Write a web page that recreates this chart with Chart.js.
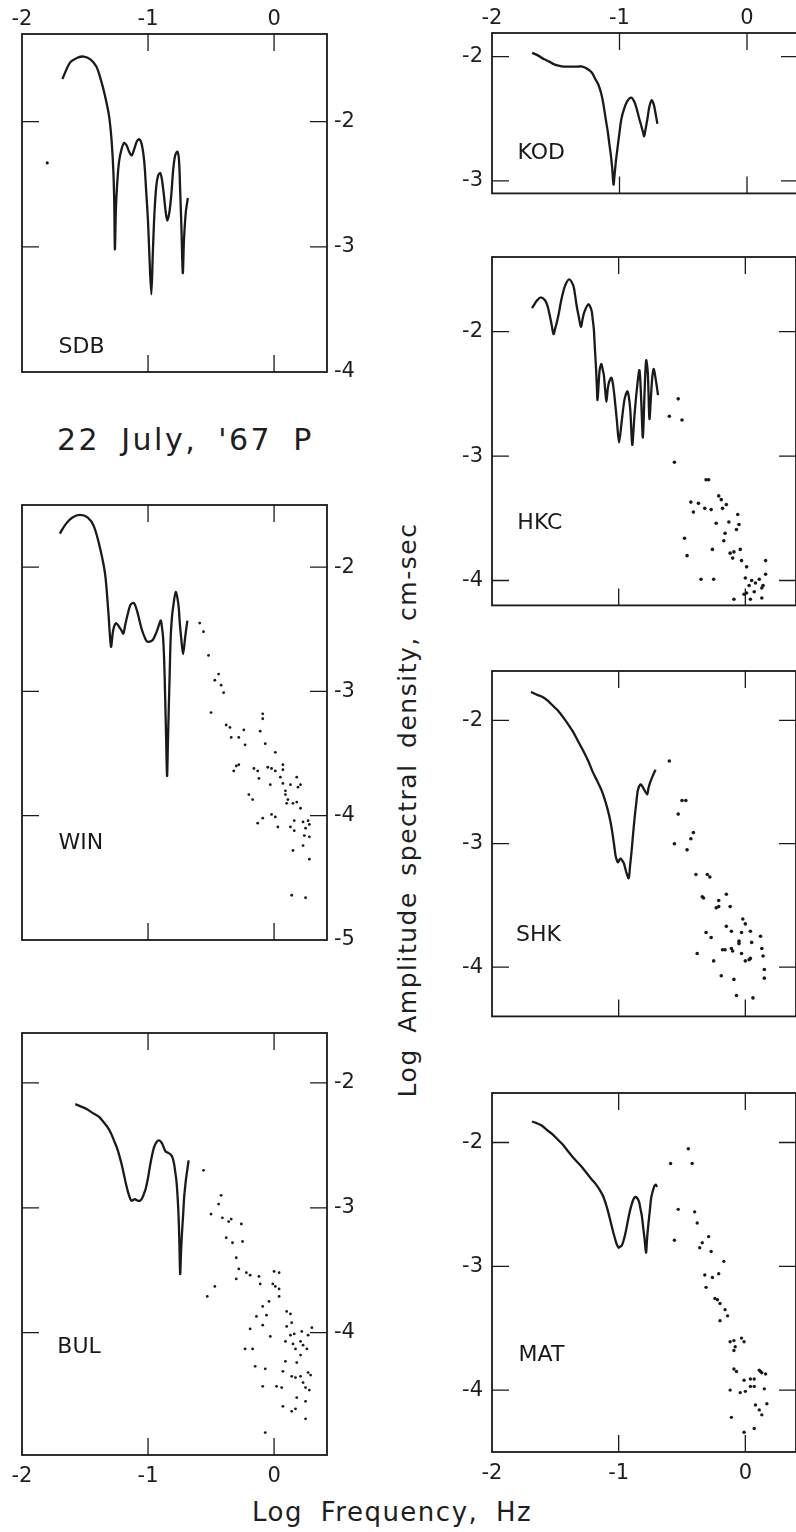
<!DOCTYPE html>
<html>
<head>
<meta charset="utf-8">
<title>22 July, '67 P</title>
<script src="https://cdn.jsdelivr.net/npm/chart.js@4.4.0/dist/chart.umd.min.js"></script>
<style>
  html, body { margin: 0; padding: 0; background: #fff; overflow: hidden; }
  body { width: 796px; height: 1532px; position: relative; font-family: 'DejaVu Sans', sans-serif; color: #1e1e1e; }
  canvas { position: absolute; }
  .txt { position: absolute; white-space: nowrap; line-height: 1; }
  #date { left: 57px; top: 425px; font-size: 30px; letter-spacing: 2.5px; word-spacing: 9px; }
  #xtitle { left: 252px; top: 1499px; font-size: 26px; letter-spacing: 1.5px; word-spacing: 8px; }
  #ytitle { left: 407px; top: 810px; font-size: 25px; letter-spacing: 1.5px; word-spacing: 6px;
            transform: translate(-50%, -50%) rotate(-90deg); }
</style>
</head>
<body>
<div class="txt" id="date">22 July, '67 P</div>
<div class="txt" id="ytitle">Log Amplitude spectral density, cm-sec</div>
<div class="txt" id="xtitle">Log Frequency, Hz</div>
<canvas id="sdb"></canvas>
<canvas id="win"></canvas>
<canvas id="bul"></canvas>
<canvas id="kod"></canvas>
<canvas id="hkc"></canvas>
<canvas id="shk"></canvas>
<canvas id="mat"></canvas>
<script>
// tick labels
const xTicks = [-2, -1, 0];
const sdbYTicks = [-2, -3, -4];
const winYTicks = [-2, -3, -4, -5];
const bulYTicks = [-2, -3, -4];
const kodYTicks = [-2, -3];
const hkcYTicks = [-2, -3, -4];
const shkYTicks = [-2, -3, -4];
const matYTicks = [-2, -3, -4];

// spectra: [log f, log amplitude]
const sdbLine = [[-1.68,-1.66],[-1.62,-1.53],[-1.56,-1.49],[-1.51,-1.48],[-1.46,-1.50],[-1.41,-1.56],[-1.37,-1.68],[-1.34,-1.80],[-1.31,-1.95],[-1.29,-2.14],[-1.275,-2.40],[-1.268,-2.65],[-1.263,-3.02],[-1.255,-2.70],[-1.245,-2.50],[-1.23,-2.32],[-1.21,-2.22],[-1.19,-2.17],[-1.17,-2.19],[-1.15,-2.24],[-1.13,-2.27],[-1.11,-2.22],[-1.09,-2.16],[-1.07,-2.14],[-1.05,-2.18],[-1.03,-2.32],[-1.015,-2.55],[-1.00,-2.80],[-0.99,-3.05],[-0.974,-3.38],[-0.962,-3.05],[-0.95,-2.75],[-0.935,-2.52],[-0.92,-2.43],[-0.903,-2.41],[-0.89,-2.46],[-0.875,-2.58],[-0.86,-2.72],[-0.847,-2.79],[-0.83,-2.72],[-0.815,-2.58],[-0.80,-2.38],[-0.785,-2.27],[-0.768,-2.24],[-0.755,-2.30],[-0.745,-2.55],[-0.735,-2.85],[-0.724,-3.21],[-0.715,-2.95],[-0.70,-2.72],[-0.684,-2.61]];
const winLine = [[-1.70,-1.73],[-1.65,-1.65],[-1.60,-1.60],[-1.54,-1.58],[-1.48,-1.60],[-1.43,-1.67],[-1.38,-1.85],[-1.34,-2.06],[-1.315,-2.36],[-1.294,-2.64],[-1.28,-2.53],[-1.27,-2.48],[-1.255,-2.45],[-1.243,-2.46],[-1.23,-2.48],[-1.21,-2.51],[-1.196,-2.535],[-1.18,-2.46],[-1.164,-2.39],[-1.138,-2.30],[-1.111,-2.29],[-1.085,-2.36],[-1.05,-2.50],[-1.02,-2.58],[-1.005,-2.60],[-0.966,-2.59],[-0.94,-2.54],[-0.926,-2.505],[-0.90,-2.43],[-0.89,-2.48],[-0.881,-2.56],[-0.872,-2.75],[-0.865,-3.01],[-0.857,-3.35],[-0.849,-3.68],[-0.842,-3.40],[-0.836,-3.16],[-0.828,-2.85],[-0.82,-2.56],[-0.81,-2.40],[-0.802,-2.33],[-0.78,-2.20],[-0.759,-2.30],[-0.748,-2.45],[-0.738,-2.56],[-0.722,-2.70],[-0.705,-2.56],[-0.688,-2.43]];
const bulLine = [[-1.577,-2.17],[-1.53,-2.19],[-1.484,-2.21],[-1.44,-2.24],[-1.391,-2.27],[-1.355,-2.31],[-1.324,-2.35],[-1.295,-2.40],[-1.271,-2.46],[-1.25,-2.51],[-1.231,-2.57],[-1.21,-2.65],[-1.191,-2.735],[-1.175,-2.81],[-1.157,-2.88],[-1.14,-2.93],[-1.13,-2.945],[-1.115,-2.935],[-1.104,-2.93],[-1.09,-2.94],[-1.075,-2.945],[-1.06,-2.94],[-1.045,-2.92],[-1.03,-2.88],[-1.019,-2.85],[-1.0,-2.76],[-0.987,-2.68],[-0.97,-2.59],[-0.952,-2.515],[-0.93,-2.47],[-0.912,-2.46],[-0.895,-2.475],[-0.886,-2.49],[-0.87,-2.53],[-0.859,-2.55],[-0.84,-2.56],[-0.819,-2.575],[-0.805,-2.60],[-0.793,-2.65],[-0.783,-2.72],[-0.774,-2.79],[-0.765,-2.92],[-0.758,-3.06],[-0.752,-3.25],[-0.745,-3.53],[-0.738,-3.35],[-0.731,-3.21],[-0.72,-3.03],[-0.713,-2.91],[-0.70,-2.78],[-0.694,-2.735],[-0.678,-2.62]];
const kodLine = [[-1.685,-1.97],[-1.64,-1.99],[-1.594,-2.02],[-1.55,-2.04],[-1.516,-2.06],[-1.47,-2.075],[-1.438,-2.08],[-1.38,-2.08],[-1.33,-2.08],[-1.29,-2.08],[-1.25,-2.10],[-1.216,-2.13],[-1.19,-2.18],[-1.164,-2.23],[-1.14,-2.31],[-1.125,-2.39],[-1.11,-2.49],[-1.091,-2.61],[-1.08,-2.70],[-1.068,-2.79],[-1.057,-2.90],[-1.047,-3.03],[-1.036,-2.92],[-1.026,-2.82],[-1.0,-2.61],[-0.985,-2.50],[-0.964,-2.42],[-0.94,-2.36],[-0.909,-2.33],[-0.885,-2.36],[-0.865,-2.42],[-0.845,-2.50],[-0.831,-2.55],[-0.815,-2.61],[-0.807,-2.64],[-0.795,-2.58],[-0.781,-2.50],[-0.765,-2.40],[-0.747,-2.35],[-0.73,-2.39],[-0.715,-2.47],[-0.703,-2.54]];
const hkcLine = [[-1.684,-1.81],[-1.665,-1.78],[-1.645,-1.75],[-1.614,-1.725],[-1.58,-1.75],[-1.56,-1.80],[-1.546,-1.86],[-1.53,-1.94],[-1.514,-2.02],[-1.50,-1.97],[-1.488,-1.925],[-1.47,-1.84],[-1.457,-1.765],[-1.44,-1.69],[-1.423,-1.63],[-1.392,-1.58],[-1.358,-1.63],[-1.345,-1.70],[-1.332,-1.79],[-1.315,-1.88],[-1.298,-1.96],[-1.285,-1.90],[-1.272,-1.845],[-1.24,-1.78],[-1.214,-1.83],[-1.205,-1.90],[-1.196,-1.98],[-1.188,-2.13],[-1.18,-2.27],[-1.173,-2.42],[-1.167,-2.55],[-1.157,-2.40],[-1.149,-2.30],[-1.136,-2.26],[-1.125,-2.31],[-1.117,-2.35],[-1.107,-2.46],[-1.097,-2.565],[-1.086,-2.46],[-1.076,-2.405],[-1.057,-2.37],[-1.044,-2.43],[-1.031,-2.54],[-1.013,-2.73],[-0.997,-2.89],[-0.977,-2.73],[-0.953,-2.54],[-0.93,-2.48],[-0.909,-2.62],[-0.893,-2.91],[-0.875,-2.67],[-0.856,-2.46],[-0.836,-2.31],[-0.822,-2.55],[-0.809,-2.85],[-0.796,-2.50],[-0.783,-2.23],[-0.77,-2.33],[-0.757,-2.70],[-0.745,-2.52],[-0.734,-2.36],[-0.723,-2.30],[-0.705,-2.40],[-0.689,-2.51]];
const shkLine = [[-1.693,-1.77],[-1.65,-1.79],[-1.601,-1.81],[-1.56,-1.84],[-1.521,-1.88],[-1.48,-1.92],[-1.442,-1.97],[-1.40,-2.03],[-1.362,-2.09],[-1.32,-2.17],[-1.283,-2.24],[-1.24,-2.33],[-1.204,-2.42],[-1.17,-2.49],[-1.138,-2.56],[-1.11,-2.64],[-1.085,-2.73],[-1.065,-2.82],[-1.05,-2.91],[-1.036,-3.01],[-1.024,-3.10],[-1.012,-3.14],[-1.005,-3.15],[-0.994,-3.13],[-0.984,-3.12],[-0.97,-3.14],[-0.96,-3.155],[-0.948,-3.20],[-0.939,-3.235],[-0.921,-3.28],[-0.91,-3.18],[-0.899,-3.07],[-0.886,-2.92],[-0.873,-2.78],[-0.86,-2.66],[-0.847,-2.56],[-0.825,-2.52],[-0.80,-2.56],[-0.775,-2.60],[-0.765,-2.55],[-0.754,-2.51],[-0.735,-2.46],[-0.709,-2.40]];
const matLine = [[-1.684,-1.83],[-1.645,-1.845],[-1.605,-1.865],[-1.565,-1.90],[-1.526,-1.93],[-1.487,-1.97],[-1.447,-2.01],[-1.408,-2.06],[-1.368,-2.11],[-1.329,-2.155],[-1.289,-2.20],[-1.25,-2.25],[-1.211,-2.30],[-1.178,-2.34],[-1.145,-2.39],[-1.12,-2.44],[-1.10,-2.50],[-1.083,-2.56],[-1.066,-2.63],[-1.049,-2.70],[-1.032,-2.765],[-1.016,-2.82],[-1.0,-2.85],[-0.987,-2.84],[-0.974,-2.83],[-0.958,-2.78],[-0.942,-2.71],[-0.925,-2.62],[-0.908,-2.54],[-0.888,-2.47],[-0.868,-2.44],[-0.842,-2.47],[-0.829,-2.53],[-0.816,-2.60],[-0.805,-2.70],[-0.797,-2.765],[-0.784,-2.89],[-0.776,-2.78],[-0.768,-2.685],[-0.755,-2.56],[-0.742,-2.44],[-0.718,-2.35],[-0.707,-2.34],[-0.697,-2.36]];

// high-frequency spectral points
const sdbDots = [[-1.80,-2.33]];
const winDots = [[-0.59,-2.45],[-0.56,-2.52],[-0.52,-2.71],[-0.44,-2.86],[-0.42,-2.95],[-0.47,-2.91],[-0.40,-3.01],[-0.50,-3.17],[-0.38,-3.27],[-0.35,-3.29],[-0.34,-3.37],[-0.28,-3.37],[-0.24,-3.31],[-0.23,-3.43],[-0.11,-3.32],[-0.09,-3.18],[-0.09,-3.22],[-0.07,-3.42],[0.01,-3.49],[-0.30,-3.60],[-0.28,-3.59],[-0.32,-3.64],[-0.16,-3.62],[-0.13,-3.64],[-0.12,-3.70],[-0.05,-3.61],[-0.02,-3.62],[0.01,-3.64],[0.07,-3.59],[0.07,-3.63],[0.05,-3.69],[-0.03,-3.75],[0.07,-3.74],[0.09,-3.80],[0.13,-3.75],[0.18,-3.69],[0.19,-3.77],[0.21,-3.75],[0.09,-3.83],[0.11,-3.87],[0.15,-3.90],[0.18,-3.89],[0.21,-3.94],[0.10,-3.90],[-0.20,-3.83],[-0.17,-3.87],[-0.13,-4.06],[-0.09,-4.02],[-0.02,-3.99],[0.03,-4.09],[0.01,-4.01],[0.13,-4.09],[0.16,-4.12],[0.16,-4.04],[0.23,-4.05],[0.25,-4.10],[0.27,-4.04],[0.28,-4.07],[0.28,-4.17],[0.24,-4.16],[0.23,-4.24],[0.15,-4.28],[0.28,-4.35],[0.14,-4.64],[0.25,-4.66]];
const bulDots = [[-0.56,-2.70],[-0.42,-2.90],[-0.44,-2.97],[-0.50,-3.05],[-0.41,-3.08],[-0.36,-3.11],[-0.34,-3.09],[-0.26,-3.13],[-0.38,-3.24],[-0.33,-3.28],[-0.25,-3.27],[-0.30,-3.40],[-0.28,-3.49],[-0.22,-3.52],[-0.19,-3.54],[-0.30,-3.57],[-0.12,-3.55],[-0.11,-3.61],[0.00,-3.51],[0.04,-3.52],[-0.01,-3.61],[0.01,-3.63],[0.04,-3.65],[0.04,-3.71],[-0.47,-3.63],[-0.53,-3.71],[-0.04,-3.75],[-0.09,-3.79],[-0.14,-3.87],[-0.06,-3.86],[0.10,-3.83],[0.13,-3.85],[0.14,-3.92],[-0.09,-3.94],[0.10,-3.95],[-0.19,-3.97],[0.13,-4.02],[0.16,-4.01],[0.22,-3.99],[0.30,-3.96],[0.27,-4.02],[-0.03,-4.03],[0.09,-4.07],[0.15,-4.09],[0.21,-4.07],[0.23,-4.10],[0.26,-4.13],[0.17,-4.13],[-0.23,-4.13],[-0.17,-4.13],[0.21,-4.18],[0.09,-4.23],[0.18,-4.24],[-0.15,-4.27],[-0.07,-4.29],[0.07,-4.31],[0.14,-4.35],[0.17,-4.36],[0.21,-4.35],[0.27,-4.32],[0.29,-4.34],[0.23,-4.40],[-0.09,-4.43],[0.02,-4.43],[0.06,-4.44],[0.25,-4.44],[0.28,-4.46],[0.18,-4.52],[0.25,-4.55],[0.07,-4.59],[0.14,-4.63],[0.17,-4.61],[0.25,-4.69],[-0.07,-4.80]];
const hkcDots = [[-0.53,-2.54],[-0.60,-2.68],[-0.50,-2.71],[-0.56,-3.05],[-0.31,-3.19],[-0.29,-3.19],[-0.43,-3.37],[-0.41,-3.45],[-0.37,-3.38],[-0.32,-3.42],[-0.27,-3.43],[-0.21,-3.32],[-0.19,-3.35],[-0.15,-3.39],[-0.18,-3.42],[-0.06,-3.47],[-0.23,-3.54],[-0.13,-3.53],[-0.05,-3.55],[-0.07,-3.59],[-0.16,-3.62],[-0.17,-3.68],[-0.48,-3.66],[-0.46,-3.80],[-0.26,-3.75],[-0.04,-3.75],[-0.12,-3.78],[-0.09,-3.77],[-0.10,-3.82],[-0.03,-3.84],[0.01,-3.89],[0.16,-3.84],[-0.35,-3.99],[-0.25,-3.99],[0.00,-3.98],[0.05,-4.00],[0.08,-4.02],[0.11,-3.99],[0.14,-4.04],[0.16,-3.95],[0.03,-4.04],[-0.01,-4.11],[0.01,-4.10],[0.07,-4.09],[0.13,-4.06],[-0.09,-4.15],[0.04,-4.15],[0.13,-4.14]];
const shkDots = [[-0.60,-2.33],[-0.50,-2.65],[-0.47,-2.65],[-0.53,-2.76],[-0.56,-3.00],[-0.41,-2.91],[-0.43,-2.96],[-0.46,-3.05],[-0.39,-3.25],[-0.30,-3.25],[-0.28,-3.27],[-0.34,-3.43],[-0.33,-3.44],[-0.21,-3.46],[-0.23,-3.52],[-0.21,-3.51],[-0.15,-3.41],[-0.12,-3.51],[-0.15,-3.67],[-0.11,-3.71],[-0.31,-3.72],[-0.27,-3.76],[-0.38,-3.89],[-0.25,-3.95],[-0.18,-3.86],[-0.16,-3.86],[-0.11,-3.85],[-0.10,-3.87],[-0.05,-3.79],[-0.02,-3.61],[0.00,-3.65],[-0.03,-3.72],[0.04,-3.71],[-0.05,-3.81],[0.05,-3.80],[-0.03,-3.89],[0.00,-3.95],[0.03,-3.94],[0.04,-3.93],[0.12,-3.75],[0.13,-3.85],[0.14,-3.91],[0.15,-4.02],[0.15,-4.09],[-0.19,-4.07],[-0.09,-4.10],[-0.07,-4.23],[0.06,-4.25]];
const matDots = [[-0.59,-2.17],[-0.45,-2.05],[-0.42,-2.17],[-0.53,-2.54],[-0.40,-2.56],[-0.38,-2.65],[-0.56,-2.79],[-0.29,-2.76],[-0.34,-2.81],[-0.36,-2.85],[-0.27,-2.88],[-0.17,-2.96],[-0.32,-3.07],[-0.26,-3.09],[-0.21,-3.06],[-0.31,-3.17],[-0.24,-3.26],[-0.22,-3.27],[-0.20,-3.30],[-0.16,-3.35],[-0.14,-3.40],[-0.20,-3.44],[-0.12,-3.61],[-0.09,-3.60],[-0.03,-3.58],[-0.01,-3.61],[-0.08,-3.65],[-0.09,-3.68],[-0.09,-3.83],[-0.07,-3.85],[-0.01,-3.92],[0.04,-3.91],[0.07,-3.91],[0.11,-3.84],[0.13,-3.86],[0.16,-3.87],[0.12,-3.85],[0.04,-3.97],[0.07,-3.97],[-0.04,-4.02],[-0.12,-4.00],[0.00,-4.01],[0.15,-3.99],[0.08,-4.12],[0.11,-4.16],[0.17,-4.11],[0.13,-4.20],[-0.11,-4.22],[0.07,-4.31],[-0.01,-4.34]];

const ink = '#1a1a1a';
Chart.defaults.font.family = "'DejaVu Sans', sans-serif";
Chart.defaults.font.size = 21;
Chart.defaults.color = '#1e1e1e';

const xy = pts => pts.map(p => ({ x: p[0], y: p[1] }));

// box frame, inward tick marks and station name
const framePlugin = {
  id: 'frame',
  afterDatasetsDraw(chart, args, o) {
    const { ctx, chartArea: a } = chart;
    const sx = chart.scales.x, sy = chart.scales.y;
    ctx.save();
    ctx.strokeStyle = ink;
    ctx.lineWidth = 1.8;
    ctx.strokeRect(a.left, a.top, a.right - a.left, a.bottom - a.top);
    ctx.lineWidth = 1.3;
    ctx.beginPath();
    xTicks.forEach(v => {
      const p = sx.getPixelForValue(v);
      if (p < a.left + 2 || p > a.right - 2) return;
      ctx.moveTo(p, a.top); ctx.lineTo(p, a.top + o.len);
      ctx.moveTo(p, a.bottom); ctx.lineTo(p, a.bottom - o.len);
    });
    o.yTicks.forEach(v => {
      const p = sy.getPixelForValue(v);
      if (p < a.top + 2 || p > a.bottom - 2) return;
      ctx.moveTo(a.left, p); ctx.lineTo(a.left + o.len, p);
      ctx.moveTo(a.right, p); ctx.lineTo(a.right - o.len, p);
    });
    ctx.stroke();
    ctx.fillStyle = ink;
    ctx.font = "22px 'DejaVu Sans'";
    ctx.textBaseline = 'middle';
    ctx.fillText(o.name, sx.getPixelForValue(o.at[0]), sy.getPixelForValue(o.at[1]));
    ctx.restore();
  }
};

// page layout: canvas rect [x, y, w, h] and plot box [left, top, right, bottom]
const panels = [
  { id: 'sdb', name: 'SDB', at: [-1.71, -3.8], line: sdbLine, dots: sdbDots, yTicks: sdbYTicks,
    canvas: [0, 0, 400, 392], box: [22, 34, 327, 372], xr: [-2, 0.42], yr: [-4, -1.3], xAxis: 'top', yAxis: 'right', r: 1.6 },
  { id: 'win', name: 'WIN', at: [-1.71, -4.22], line: winLine, dots: winDots, yTicks: winYTicks,
    canvas: [0, 480, 400, 480], box: [22, 505, 327, 940], xr: [-2, 0.42], yr: [-5, -1.5], xAxis: null, yAxis: 'right', r: 1.4 },
  { id: 'bul', name: 'BUL', at: [-1.72, -4.12], line: bulLine, dots: bulDots, yTicks: bulYTicks,
    canvas: [0, 1000, 400, 500], box: [22, 1033, 327, 1455], xr: [-2, 0.42], yr: [-4.98, -1.6], xAxis: 'bottom', yAxis: 'right', r: 1.4 },
  { id: 'kod', name: 'KOD', at: [-1.8, -2.78], line: kodLine, dots: [], yTicks: kodYTicks,
    canvas: [420, 0, 380, 215], box: [492, 33, 798, 195], xr: [-2, 0.4], yr: [-3.1, -1.81], xAxis: 'top', yAxis: 'left', r: 1.6 },
  { id: 'hkc', name: 'HKC', at: [-1.8, -3.54], line: hkcLine, dots: hkcDots, yTicks: hkcYTicks,
    canvas: [420, 232, 380, 395], box: [492, 257, 798, 607], xr: [-2, 0.4], yr: [-4.2, -1.4], xAxis: null, yAxis: 'left', r: 1.8 },
  { id: 'shk', name: 'SHK', at: [-1.81, -3.74], line: shkLine, dots: shkDots, yTicks: shkYTicks,
    canvas: [420, 648, 380, 390], box: [492, 671, 798, 1017], xr: [-2, 0.4], yr: [-4.4, -1.6], xAxis: null, yAxis: 'left', r: 1.8 },
  { id: 'mat', name: 'MAT', at: [-1.79, -3.72], line: matLine, dots: matDots, yTicks: matYTicks,
    canvas: [420, 1070, 380, 430], box: [492, 1093, 798, 1452], xr: [-2, 0.4], yr: [-4.5, -1.6], xAxis: 'bottom', yAxis: 'left', r: 1.7 }
];

panels.forEach(p => {
  const cv = document.getElementById(p.id);
  const [cx, cy, cw, ch] = p.canvas;
  const [bl, bt, br, bb] = p.box;
  cv.style.left = cx + 'px';
  cv.style.top = cy + 'px';
  cv.width = cw;
  cv.height = ch;
  const gap = { left: bl - cx, top: bt - cy, right: cx + cw - br, bottom: cy + ch - bb };
  const pad = Object.assign({}, gap);
  if (p.xAxis) pad[p.xAxis] = 0;
  pad[p.yAxis] = 0;

  new Chart(cv, {
    type: 'scatter',
    data: {
      datasets: [
        { data: xy(p.line), showLine: true, borderColor: ink, borderWidth: 2.3, pointRadius: 0, tension: 0.3, fill: false },
        { data: xy(p.dots), showLine: false, pointRadius: p.r, pointBackgroundColor: ink, pointBorderWidth: 0 }
      ]
    },
    plugins: [framePlugin],
    options: {
      responsive: false,
      animation: false,
      devicePixelRatio: 1,
      events: [],
      layout: { padding: pad },
      plugins: {
        legend: { display: false },
        tooltip: { enabled: false },
        frame: { yTicks: p.yTicks, name: p.name, at: p.at, len: 17 }
      },
      scales: {
        x: {
          type: 'linear', min: p.xr[0], max: p.xr[1],
          position: p.xAxis || 'bottom',
          display: !!p.xAxis,
          afterFit: s => { s.height = p.xAxis ? gap[p.xAxis] : 0; },
          afterBuildTicks: s => { s.ticks = xTicks.map(v => ({ value: v })); },
          ticks: { padding: p.xAxis === 'top' ? 2 : 9, maxRotation: 0, autoSkip: false },
          grid: { display: false, drawTicks: false },
          border: { display: false }
        },
        y: {
          type: 'linear', min: p.yr[0], max: p.yr[1],
          position: p.yAxis,
          afterFit: s => { s.width = gap[p.yAxis]; },
          afterBuildTicks: s => { s.ticks = p.yTicks.map(v => ({ value: v })); },
          ticks: { padding: p.yAxis === 'right' ? 7 : 9, autoSkip: false },
          grid: { display: false, drawTicks: false },
          border: { display: false }
        }
      }
    }
  });
});
</script>
</body>
</html>
